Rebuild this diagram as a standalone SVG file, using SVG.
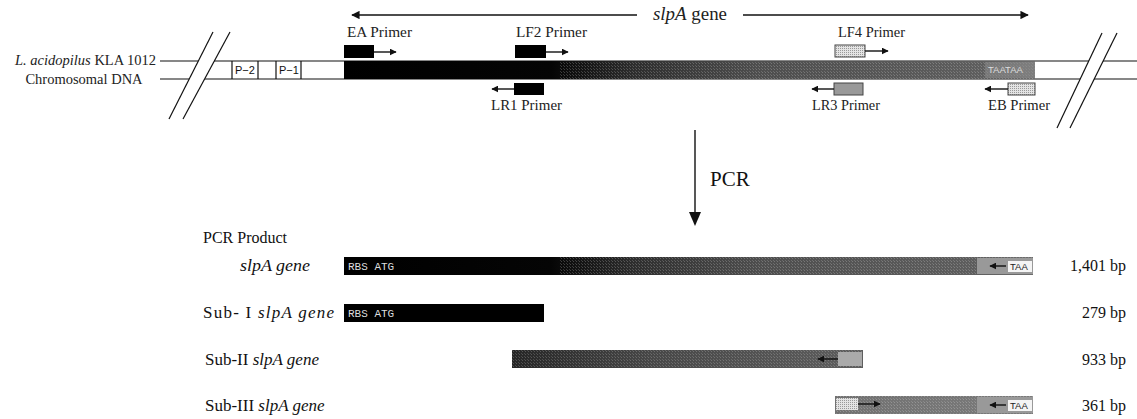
<svg xmlns="http://www.w3.org/2000/svg" width="1137" height="419" viewBox="0 0 1137 419">
<style>
.lbl{font-family:"Liberation Serif",serif;font-size:14.5px;fill:#222}
.row{font-family:"Liberation Serif",serif;font-size:17px;fill:#111}
.it{font-style:italic}
.ln{stroke:#111;stroke-width:1.4;fill:none}
.thin{stroke:#111;stroke-width:1.2;fill:none}
.sm{font-family:"Liberation Sans",sans-serif;font-size:11px;fill:#111}
.rbs{font-family:"Liberation Mono",monospace;font-size:11px;fill:#ddd}
.taa{font-family:"Liberation Sans",sans-serif;font-size:9.5px;fill:#222}
</style>
<defs>
<linearGradient id="geneGrad" x1="0" y1="0" x2="1" y2="0">
<stop offset="0" stop-color="#000"/>
<stop offset="0.3" stop-color="#050505"/>
<stop offset="0.42" stop-color="#2e2e2e"/>
<stop offset="0.6" stop-color="#4e4e4e"/>
<stop offset="0.92" stop-color="#5e5e5e"/>
<stop offset="1" stop-color="#6e6e6e"/>
</linearGradient>
<linearGradient id="sub2Grad" x1="0" y1="0" x2="1" y2="0">
<stop offset="0" stop-color="#262626"/>
<stop offset="0.4" stop-color="#484848"/>
<stop offset="1" stop-color="#5e5e5e"/>
</linearGradient>
<linearGradient id="sub3Grad" x1="0" y1="0" x2="1" y2="0">
<stop offset="0" stop-color="#727272"/>
<stop offset="1" stop-color="#7a7a7a"/>
</linearGradient>
<pattern id="hatch" width="3" height="3" patternUnits="userSpaceOnUse">
<rect x="0" y="0" width="1" height="1" fill="#fff"/>
<rect x="2" y="2" width="1" height="1" fill="#ccc"/>
</pattern>
<pattern id="stip" width="2" height="2" patternUnits="userSpaceOnUse">
<rect width="2" height="2" fill="#e4e4e4"/>
<rect width="1" height="1" fill="#999"/>
</pattern>
<marker id="ah" viewBox="0 0 10 10" refX="9" refY="5" markerWidth="5" markerHeight="5" orient="auto-start-reverse" markerUnits="strokeWidth">
<path d="M0,0 L10,5 L0,10 z" fill="#111"/>
</marker>
<marker id="ahBig" viewBox="0 0 10 10" refX="9" refY="5" markerWidth="7" markerHeight="6" orient="auto-start-reverse" markerUnits="strokeWidth">
<path d="M0,0 L10,5 L0,10 z" fill="#111"/>
</marker>
</defs>

<g id="chromosome">
<line class="thin" x1="160" y1="61" x2="1137" y2="61"/>
<line class="thin" x1="160" y1="79" x2="1137" y2="79"/>
<polygon points="169,119 213,32 230,32 183,119" fill="#fff"/>
<polygon points="1057,128 1102,33 1117,33 1070,128" fill="#fff"/>
<line class="thin" x1="169" y1="119" x2="213" y2="32"/>
<line class="thin" x1="183" y1="119" x2="230" y2="32"/>
<line class="thin" x1="1057" y1="128" x2="1102" y2="33"/>
<line class="thin" x1="1070" y1="128" x2="1117" y2="33"/>
<line class="thin" x1="232" y1="61" x2="232" y2="79"/>
<line class="thin" x1="258" y1="61" x2="258" y2="79"/>
<line class="thin" x1="276" y1="61" x2="276" y2="79"/>
<line class="thin" x1="301" y1="61" x2="301" y2="79"/>
<text class="sm" x="235" y="74">P−2</text>
<text class="sm" x="279" y="74">P−1</text>
<text class="lbl" x="156" y="65" text-anchor="end"><tspan class="it">L. acidopilus</tspan> KLA 1012</text>
<text class="lbl" x="84" y="84" text-anchor="middle">Chromosomal DNA</text>
</g>

<g id="gene-bar">
<rect x="344" y="61" width="691" height="18" fill="url(#geneGrad)"/>
<rect x="560" y="61" width="475" height="18" fill="url(#hatch)" opacity="0.22"/>
<rect x="985" y="62" width="50" height="16" fill="#888" opacity="0.6"/>
<text class="taa" x="988" y="73" style="fill:#ddd">TAATAA</text>
</g>

<g id="slpA-arrow">
<line class="ln" x1="352" y1="15" x2="637" y2="15" marker-start="url(#ahBig)"/>
<line class="ln" x1="743" y1="15" x2="1028" y2="15" marker-end="url(#ahBig)"/>
<text class="lbl" x="653" y="20" style="font-size:18px" textLength="74" lengthAdjust="spacingAndGlyphs"><tspan class="it">slpA</tspan> gene</text>
</g>

<g id="primer-EA">
<rect x="344" y="45" width="30" height="13" fill="#000"/>
<line class="ln" x1="374" y1="52" x2="396" y2="52" marker-end="url(#ah)"/>
<text class="lbl" x="347" y="37" textLength="65" lengthAdjust="spacingAndGlyphs">EA Primer</text>
</g>
<g id="primer-LF2">
<rect x="515" y="45" width="31" height="13" fill="#000"/>
<line class="ln" x1="546" y1="52" x2="568" y2="52" marker-end="url(#ah)"/>
<text class="lbl" x="516" y="37" textLength="71" lengthAdjust="spacingAndGlyphs">LF2 Primer</text>
</g>
<g id="primer-LR1">
<rect x="514" y="83" width="30" height="12" fill="#000"/>
<line class="ln" x1="514" y1="89" x2="492" y2="89" marker-end="url(#ah)"/>
<text class="lbl" x="491" y="110" textLength="71" lengthAdjust="spacingAndGlyphs">LR1 Primer</text>
</g>
<g id="primer-LF4">
<rect x="835" y="45" width="30" height="12" fill="url(#stip)" stroke="#444" stroke-width="1"/>
<line class="ln" x1="865" y1="51" x2="888" y2="51" marker-end="url(#ah)"/>
<text class="lbl" x="838" y="37" textLength="67" lengthAdjust="spacingAndGlyphs">LF4 Primer</text>
</g>
<g id="primer-LR3">
<rect x="834" y="83" width="29" height="12" fill="#999" stroke="#444" stroke-width="1"/>
<line class="ln" x1="834" y1="89" x2="812" y2="89" marker-end="url(#ah)"/>
<text class="lbl" x="812" y="110" textLength="68" lengthAdjust="spacingAndGlyphs">LR3 Primer</text>
</g>
<g id="primer-EB">
<rect x="1008" y="83" width="27" height="12" fill="url(#stip)" stroke="#444" stroke-width="1"/>
<line class="ln" x1="1008" y1="89" x2="985" y2="89" marker-end="url(#ah)"/>
<text class="lbl" x="988" y="110" textLength="62" lengthAdjust="spacingAndGlyphs">EB Primer</text>
</g>

<g id="pcr">
<line class="ln" x1="695" y1="130" x2="695" y2="214"/>
<polygon points="689,212 701,212 695,226" fill="#111"/>
<text class="row" x="710" y="186" style="font-size:21px">PCR</text>
</g>

<text class="row" x="203" y="243" style="font-size:16px">PCR Product</text>

<g id="row-full">
<text class="row it" x="240" y="271" textLength="70" lengthAdjust="spacingAndGlyphs">slpA gene</text>
<rect x="344" y="257" width="689" height="18" fill="url(#geneGrad)"/>
<rect x="560" y="257" width="473" height="18" fill="url(#hatch)" opacity="0.22"/>
<text class="rbs" x="348" y="270">RBS ATG</text>
<rect x="977" y="258" width="56" height="16" fill="#999"/>
<line class="ln" x1="1006" y1="266" x2="990" y2="266" marker-end="url(#ah)"/>
<rect x="1008" y="261" width="24" height="11" fill="#f4f4f4"/>
<text class="taa" x="1010" y="270">TAA</text>
<text class="row" x="1126" y="271" text-anchor="end" style="font-size:16px">1,401 bp</text>
</g>

<g id="row-sub1">
<text class="row" x="203" y="318" textLength="131" lengthAdjust="spacing">Sub- I <tspan class="it">slpA gene</tspan></text>
<rect x="344" y="304" width="200" height="18" fill="#000"/>
<text class="rbs" x="348" y="317">RBS ATG</text>
<text class="row" x="1126" y="318" text-anchor="end" style="font-size:16px">279 bp</text>
</g>

<g id="row-sub2">
<text class="row" x="205" y="365">Sub-II <tspan class="it">slpA gene</tspan></text>
<rect x="512" y="350" width="351" height="18" fill="url(#sub2Grad)"/>
<rect x="512" y="350" width="351" height="18" fill="url(#hatch)" opacity="0.2"/>
<line class="ln" x1="838" y1="359" x2="818" y2="359" marker-end="url(#ah)"/>
<rect x="838" y="352" width="24" height="14" fill="#aaa"/>
<text class="row" x="1126" y="365" text-anchor="end" style="font-size:16px">933 bp</text>
</g>

<g id="row-sub3">
<text class="row" x="205" y="411">Sub-III <tspan class="it">slpA gene</tspan></text>
<rect x="835" y="396" width="198" height="18" fill="url(#sub3Grad)"/>
<rect x="835" y="396" width="198" height="18" fill="url(#hatch)" opacity="0.22"/>
<rect x="836" y="398" width="22" height="12" fill="url(#stip)"/>
<line class="ln" x1="858" y1="404" x2="880" y2="404" marker-end="url(#ah)"/>
<rect x="977" y="397" width="56" height="16" fill="#999"/>
<line class="ln" x1="1006" y1="405" x2="990" y2="405" marker-end="url(#ah)"/>
<rect x="1008" y="400" width="24" height="11" fill="#f4f4f4"/>
<text class="taa" x="1010" y="409">TAA</text>
<text class="row" x="1126" y="411" text-anchor="end" style="font-size:16px">361 bp</text>
</g>
</svg>
